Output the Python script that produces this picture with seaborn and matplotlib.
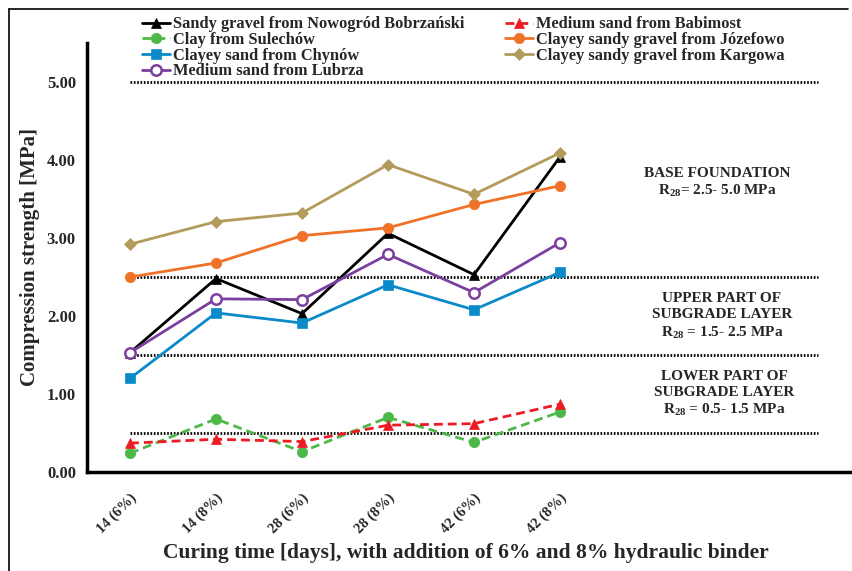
import numpy as np
import pandas as pd
import matplotlib
matplotlib.use("Agg")
import matplotlib.pyplot as plt
from matplotlib.lines import Line2D
import seaborn as sns

# Curing time / binder content categories
categories = ["14 (6%)", "14 (8%)", "28 (6%)", "28 (8%)", "42 (6%)", "42 (8%)"]

# Compression strength [MPa] for each soil
nowogrod = [1.53, 2.48, 2.03, 3.06, 2.53, 4.04]
babimost = [0.37, 0.42, 0.39, 0.60, 0.62, 0.87]
sulechow = [0.24, 0.68, 0.26, 0.70, 0.38, 0.77]
jozefowo = [2.50, 2.68, 3.03, 3.13, 3.43, 3.67]
chynow = [1.20, 2.04, 1.91, 2.40, 2.08, 2.56]
kargowa = [2.92, 3.21, 3.32, 3.94, 3.56, 4.09]
lubrza = [1.53, 2.22, 2.21, 2.79, 2.30, 2.94]

# Requirement limits for road layers
limits = [0.5, 1.5, 2.5, 5.0]

sns.set_theme(style="white")
plt.rcParams["font.family"] = ["Liberation Serif", "DejaVu Serif"]
plt.rcParams["font.weight"] = "bold"
plt.rcParams["mathtext.fontset"] = "custom"
plt.rcParams["mathtext.rm"] = "Liberation Serif:bold"
plt.rcParams["mathtext.it"] = "Liberation Serif:bold"
plt.rcParams["mathtext.bf"] = "Liberation Serif:bold"

W, H = 853, 571
fig = plt.figure(figsize=(W / 100, H / 100), dpi=100)
left, right, bottom, top = 87, 861, 472, 43
ax = fig.add_axes([left / W, 1 - bottom / H, (right - left) / W, (bottom - top) / H])

x = np.arange(len(categories))

series = [
    ("Sandy gravel from Nowogród Bobrzański", nowogrod, "#000000", "^", "-", True),
    ("Clay from Sulechów", sulechow, "#4DB848", "o", (0, (3.2, 1.8)), True),
    ("Clayey sand from Chynów", chynow, "#0A8AC9", "s", "-", True),
    ("Medium sand from Lubrza", lubrza, "#7B3F9E", "o", "-", False),
    ("Medium sand from Babimost", babimost, "#ED1C24", "^", (0, (3.2, 1.8)), True),
    ("Clayey sandy gravel from Józefowo", jozefowo, "#F07229", "o", "-", True),
    ("Clayey sandy gravel from Kargowa", kargowa, "#B39B5C", "D", "-", True),
]

# Dotted limit lines spanning the full category range
span = np.arange(0, 9)
for lim in limits:
    sns.lineplot(x=span, y=np.full(len(span), lim), ax=ax, color="black",
                 linestyle=(0, (0.6, 0.6)), linewidth=2.0, legend=False)

handles = []
for name, vals, col, mk, ls, filled in series:
    ms = 6 if mk == "D" else 7.5
    sns.lineplot(x=x, y=vals, ax=ax, color=col, linestyle=ls, linewidth=2.0,
                 marker=mk, markersize=ms,
                 markerfacecolor=col if filled else "white",
                 markeredgecolor=col, markeredgewidth=1.8 if not filled else 0.5,
                 legend=False)
    handles.append(Line2D([0], [0], color=col, linestyle=ls, linewidth=2.0,
                          marker=mk, markersize=ms,
                          markerfacecolor=col if filled else "white",
                          markeredgecolor=col,
                          markeredgewidth=1.8 if not filled else 0.5,
                          label=name))

ax.set_xlim(-0.5, 8.5)
ax.set_ylim(0, 5.5)

ax.set_yticks(np.arange(0, 6, 1))
ax.set_yticklabels([f"{v:.2f}" for v in np.arange(0, 6, 1)], fontsize=12, fontweight="bold")

ax.set_xticks(x)
ax.set_xticklabels(categories, rotation=45, ha="right", rotation_mode="anchor",
                   fontsize=10.5, fontweight="bold")
ax.set_xticks(np.arange(-0.5, 8.5, 1), minor=True)
ax.tick_params(axis="x", which="major", length=0, pad=14)
ax.tick_params(axis="x", which="minor", length=4, width=2, color="black", direction="out")
ax.tick_params(axis="y", which="major", length=4, width=2, color="black", direction="out", pad=4)

for s in ["top", "right"]:
    ax.spines[s].set_visible(False)
for s in ["left", "bottom"]:
    ax.spines[s].set_linewidth(2.5)
    ax.spines[s].set_color("black")

ax.set_xlabel("")
ax.set_ylabel("Compression strength [MPa]", fontsize=15, fontweight="bold", labelpad=5)

fig.text(466 / W, 1 - 553 / H,
         "Curing time [days], with addition of 6% and 8% hydraulic binder",
         ha="center", va="center", fontsize=15.5, fontweight="bold")

# Layer requirement annotations
notes = [
    (717, 173, "BASE FOUNDATION"),
    (717, 191, r"R$_{28}$= 2.5- 5.0 MPa"),
    (722, 298, "UPPER PART OF"),
    (722, 315, "SUBGRADE LAYER"),
    (722, 333, r"R$_{28}$ = 1.5- 2.5 MPa"),
    (724, 376, "LOWER PART OF"),
    (724, 393, "SUBGRADE LAYER"),
    (724, 410, r"R$_{28}$ = 0.5- 1.5 MPa"),
]
for px, py, t in notes:
    fig.text(px / W, 1 - py / H, t, ha="center", va="center", fontsize=11, fontweight="bold")

fig.legend(handles=handles, ncol=2, frameon=False, loc="upper left",
           bbox_to_anchor=(131 / W, 1 - 5 / H),
           prop={"weight": "bold", "size": 11.8},
           handlelength=1.7, handletextpad=0.15, columnspacing=2.5,
           labelspacing=-0.02, borderpad=0.2)

# Thin frame along the left and top of the figure
fig.add_artist(Line2D([9 / W, 9 / W], [0, 1 - 9 / H], color="black", linewidth=1.2,
                      transform=fig.transFigure))
fig.add_artist(Line2D([9 / W, 848 / W], [1 - 9 / H, 1 - 9 / H], color="black", linewidth=1.2,
                      transform=fig.transFigure))

fig.savefig("out.png", dpi=100)
